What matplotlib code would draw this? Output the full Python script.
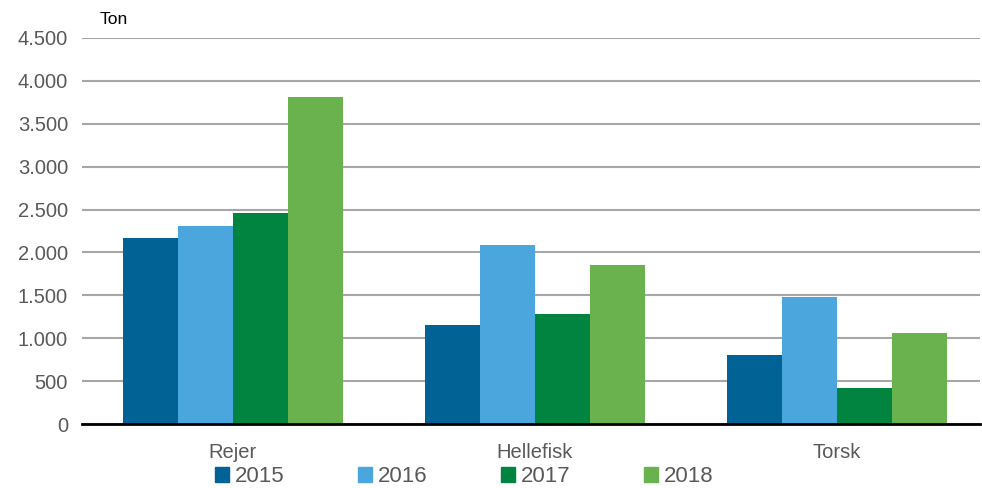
import numpy as np
import matplotlib.pyplot as plt
from matplotlib.patches import Patch

plt.rcParams['font.family'] = ['Liberation Sans', 'DejaVu Sans']

categories = ['Rejer', 'Hellefisk', 'Torsk']
years = ['2015', '2016', '2017', '2018']
values = {
    '2015': [2170, 1155, 805],
    '2016': [2310, 2085, 1480],
    '2017': [2460, 1280, 420],
    '2018': [3810, 1855, 1060],
}
colors = ['#006295', '#4ba6dd', '#00843f', '#6ab24e']

fig = plt.figure(figsize=(9.82, 4.88), dpi=100)
ax = fig.add_axes([82 / 982, 64 / 488, 898 / 982, 386 / 488])

x = np.arange(len(categories))
w = 0.182
for i, yr in enumerate(years):
    ax.bar(x + (i - 1.5) * w, values[yr], width=w, color=colors[i], zorder=3)

ax.set_xlim(-0.5, 2.474)
ax.set_ylim(0, 4500)
ax.set_yticks(np.arange(0, 4501, 500))
ax.set_yticklabels([f'{v:,}'.replace(',', '.') for v in range(0, 4501, 500)])
ax.set_xticks(x)
ax.set_xticklabels(categories)
ax.yaxis.grid(True, color='#a6a6a6', linewidth=1.5, zorder=0)
ax.tick_params(axis='both', length=0, labelsize=14.5, colors='#595959')
ax.tick_params(axis='y', pad=10)
ax.tick_params(axis='x', pad=14)
for s in ['top', 'right', 'left']:
    ax.spines[s].set_visible(False)
ax.spines['bottom'].set_linewidth(2)
ax.spines['bottom'].set_color('black')
ax.spines['bottom'].set_zorder(4)

fig.text(100 / 982, 1 - 20 / 488, 'Ton', fontsize=12.5, color='black', va='center')

handles = [Patch(color=c, label=y) for c, y in zip(colors, years)]
fig.legend(handles=handles, ncol=4, loc='center left', bbox_to_anchor=(215 / 982, 1 - 477 / 488),
           frameon=False, fontsize=16, handlelength=0.65, handleheight=0.65,
           handletextpad=0.25, columnspacing=3.3, labelcolor='#595959', borderpad=0, borderaxespad=0)

fig.savefig('out.png', dpi=100)
